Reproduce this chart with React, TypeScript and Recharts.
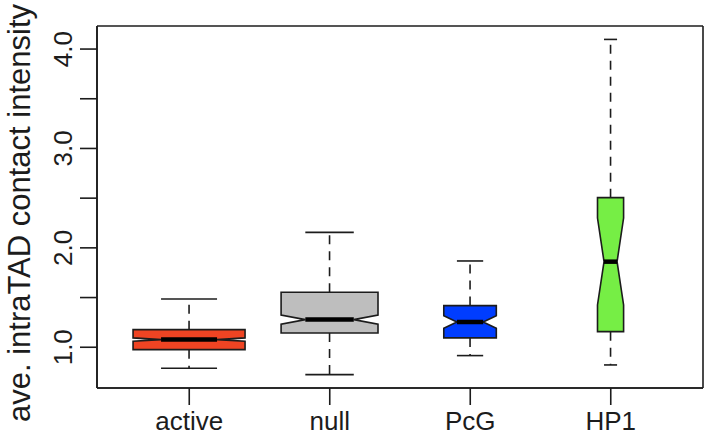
import { Bar, CartesianGrid, ComposedChart, XAxis, YAxis } from "recharts"

const groups = ["active", "null", "PcG", "HP1"]
// group sizes only drive the relative box widths (varwidth)
const groupSizes = [350, 262, 77, 19]
const whiskerLow = [0.788, 0.725, 0.916, 0.822]
const lowerHinge = [0.976, 1.144, 1.094, 1.157]
const medians = [1.077, 1.278, 1.254, 1.861]
const upperHinge = [1.177, 1.553, 1.419, 2.505]
const whiskerHigh = [1.486, 2.156, 1.868, 4.097]
const notchLow = [1.06, 1.233, 1.192, 1.425]
const notchHigh = [1.094, 1.323, 1.316, 2.3]
const boxColors = ["#EF4423", "#BEBEBE", "#003DFF", "#76EE45"]
const yTicks = [1, 1.5, 2, 2.5, 3, 3.5, 4]

const maxSize = Math.max(...groupSizes)

const data = groups.map((name, i) => ({
  name,
  low: whiskerLow[i],
  q1: lowerHinge[i],
  med: medians[i],
  q3: upperHinge[i],
  high: whiskerHigh[i],
  nLo: notchLow[i],
  nHi: notchHigh[i],
  rel: Math.sqrt(groupSizes[i] / maxSize),
  color: boxColors[i],
}))

const FONT = "'Liberation Sans', Arial, Helvetica, sans-serif"
const INK = "#1c1c1c"

function BoxShape(props: any) {
  const { x, y, width, height, payload } = props
  const top = Math.min(y, y + height)
  const k = Math.abs(height) / (payload.high - payload.low)
  const py = (v: number) => top + (payload.high - v) * k
  const cx = x + width / 2
  const half = (width / 2) * payload.rel
  const inner = half / 2
  const L = cx - half
  const R = cx + half
  const pts = [
    [L, py(payload.q1)],
    [L, py(payload.nLo)],
    [cx - inner, py(payload.med)],
    [L, py(payload.nHi)],
    [L, py(payload.q3)],
    [R, py(payload.q3)],
    [R, py(payload.nHi)],
    [cx + inner, py(payload.med)],
    [R, py(payload.nLo)],
    [R, py(payload.q1)],
  ]
    .map((p) => p.join(","))
    .join(" ")

  return (
    <g>
      <line x1={cx} x2={cx} y1={py(payload.q3)} y2={py(payload.high)} stroke={INK} strokeWidth={1.6} strokeDasharray="9 7" />
      <line x1={cx} x2={cx} y1={py(payload.q1)} y2={py(payload.low)} stroke={INK} strokeWidth={1.6} strokeDasharray="9 7" />
      <line x1={cx - inner} x2={cx + inner} y1={py(payload.high)} y2={py(payload.high)} stroke={INK} strokeWidth={1.6} />
      <line x1={cx - inner} x2={cx + inner} y1={py(payload.low)} y2={py(payload.low)} stroke={INK} strokeWidth={1.6} />
      <polygon points={pts} fill={payload.color} stroke={INK} strokeWidth={1.6} strokeLinejoin="miter" />
      <line x1={cx - inner} x2={cx + inner} y1={py(payload.med)} y2={py(payload.med)} stroke="#000" strokeWidth={4.5} />
    </g>
  )
}

function YTick(props: any) {
  const { x, y, payload } = props
  if (!Number.isInteger(payload.value)) return null
  const bx = x - 8
  return (
    <text x={bx} y={y} transform={`rotate(-90, ${bx}, ${y})`} textAnchor="middle" fontSize={26} fill={INK} fontFamily={FONT}>
      {payload.value.toFixed(1)}
    </text>
  )
}

function XTick(props: any) {
  const { x, y, payload } = props
  return (
    <text x={x} y={y + 25} textAnchor="middle" fontSize={26} fill={INK} fontFamily={FONT}>
      {payload.value}
    </text>
  )
}

function YTitle(props: any) {
  const vb = props.viewBox
  const tx = 30
  const ty = vb.y + vb.height / 2 + 6
  return (
    <text x={tx} y={ty} transform={`rotate(-90, ${tx}, ${ty})`} textAnchor="middle" fontSize={31} fill={INK} fontFamily={FONT}>
      ave. intraTAD contact intensity
    </text>
  )
}

export default function App() {
  return (
    <div style={{ width: 707, height: 436, background: "#fff" }}>
      <style>{"body{margin:0}"}</style>
      <ComposedChart width={707} height={436} data={data} margin={{ top: 26, right: 4, left: 0, bottom: 0 }} barCategoryGap="10%">
        <CartesianGrid
          stroke={INK}
          strokeWidth={1.6}
          fill="none"
          horizontalCoordinatesGenerator={({ offset }: any) => [offset.top, offset.top + offset.height]}
          verticalCoordinatesGenerator={({ offset }: any) => [offset.left, offset.left + offset.width]}
        />
        <XAxis
          dataKey="name"
          height={48}
          padding={{ left: 22, right: 22 }}
          tickSize={17}
          tickMargin={0}
          tick={<XTick />}
          tickLine={{ stroke: INK, strokeWidth: 1.6 }}
          axisLine={{ stroke: INK, strokeWidth: 1.6 }}
          interval={0}
        />
        <YAxis
          type="number"
          domain={[0.59, 4.232]}
          allowDataOverflow
          ticks={yTicks}
          interval={0}
          width={97}
          tickSize={17}
          tickMargin={0}
          tick={<YTick />}
          tickLine={{ stroke: INK, strokeWidth: 1.6 }}
          axisLine={{ stroke: INK, strokeWidth: 1.6 }}
          label={{ content: <YTitle /> }}
        />
        <Bar dataKey={(d: any) => [d.low, d.high]} shape={<BoxShape />} isAnimationActive={false} />
      </ComposedChart>
    </div>
  )
}
